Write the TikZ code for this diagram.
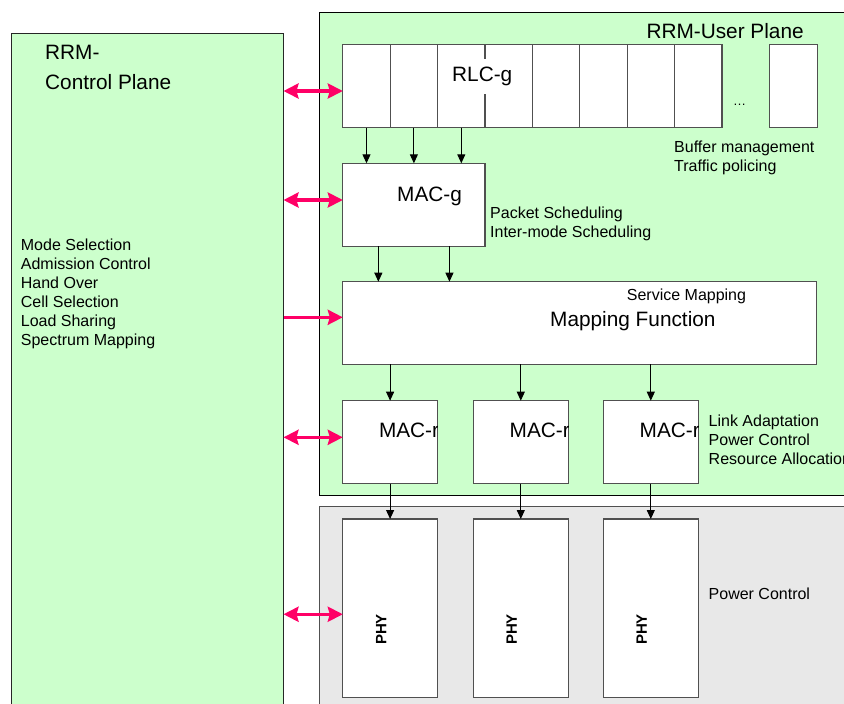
\documentclass[tikz,border=0pt]{standalone}
\usepackage{fontspec}
\setmainfont{Liberation Sans}
\usetikzlibrary{arrows.meta,calc}
\definecolor{planegreen}{HTML}{CCFFCC}
\definecolor{phygray}{HTML}{E8E8E8}
\definecolor{ctrlpink}{HTML}{FF0066}
\definecolor{edgegray}{HTML}{505050}
\tikzset{
  plane/.style={draw=black, line width=1pt, outer sep=0pt, inner sep=0pt, anchor=north west},
  blockbox/.style={draw=edgegray, fill=white, line width=1.2pt, outer sep=0pt, inner sep=0pt, anchor=north west},
  bigtxt/.style={font=\fontsize{20.8}{25}\selectfont, inner sep=0pt, anchor=base west},
  smalltxt/.style={font=\fontsize{16}{19}\selectfont, inner sep=0pt, anchor=base west},
  phytxt/.style={font=\bfseries\fontsize{15}{17}\selectfont, inner sep=0pt, rotate=90},
  flow/.style={draw=black, line width=1pt, -{Triangle[length=9pt,width=8pt]}},
  ctrl/.style={draw=ctrlpink, line width=3.5pt,
    {Stealth[length=15pt,width=15pt,inset=2pt]}-{Stealth[length=15pt,width=15pt,inset=2pt]}},
  ctrlone/.style={draw=ctrlpink, line width=3.5pt, -{Stealth[length=15pt,width=15pt,inset=2pt]}}
}
\begin{document}
\begin{tikzpicture}[x=1pt,y=-1pt]
\path[use as bounding box] (0,0) rectangle (844,704);
\clip (0,0) rectangle (844,704);

% planes
\node[plane, draw=black!85, fill=planegreen, minimum width=272.5pt, minimum height=700pt] (cp) at (11,33) {};
\node[plane, fill=planegreen, minimum width=545pt, minimum height=482.6pt] (up) at (319,12.7) {};
\node[plane, draw=edgegray, fill=phygray, minimum width=545pt, minimum height=220pt] (pr) at (319,506.7) {};

% control plane texts
\node[bigtxt] (cpt1) at (45,59) {RRM-};
\node[bigtxt] (cpt2) at (45,89) {Control Plane};
\foreach \t [count=\k from 0] in {Mode Selection,Admission Control,Hand Over,Cell Selection,Load Sharing,Spectrum Mapping}
  \node[smalltxt] (cpf\k) at (20.7,{250.5+19*\k}) {\t};

% user plane title
\node[bigtxt] (upt) at (646.3,38.3) {RRM-User Plane};

% RLC buffers
\foreach \i in {1,...,8}
  \node[blockbox, minimum width=47.4pt, minimum height=83pt] (rlc\i) at ({342.8+47.4*(\i-1)},44.7) {};
\node[blockbox, minimum width=47.6pt, minimum height=83pt] (rlcn) at (769.6,44.7) {};
\node[bigtxt, fill=white, inner xsep=2pt, inner ysep=8pt] (rlclbl) at (450,81.7) {RLC-g};
\node[font=\fontsize{13}{15}\selectfont, inner sep=0pt, anchor=base] (dots) at (739.5,105) {…};
\node[smalltxt] (buf1) at (674,152.7) {Buffer management};
\node[smalltxt] (buf2) at (674,171.7) {Traffic policing};

% MAC-g
\node[blockbox, minimum width=142.2pt, minimum height=83pt] (macg) at (342.8,163.3) {};
\node[bigtxt] (macglbl) at (397,201.3) {MAC-g};
\node[smalltxt] (ps1) at (490,218.3) {Packet Scheduling};
\node[smalltxt] (ps2) at (490,237.3) {Inter-mode Scheduling};

% mapping function
\node[blockbox, minimum width=473.9pt, minimum height=82.6pt] (map) at (342.8,281.7) {};
\node[smalltxt] (svc) at (626.7,300.7) {Service Mapping};
\node[bigtxt] (maplbl) at (550,326.7) {Mapping Function};

% MAC-r and PHY columns
\foreach \i/\x in {1/342.8,2/473.5,3/603.5} {
  \node[blockbox, minimum width=94.6pt, minimum height=83pt] (macr\i) at (\x,400.7) {};
  \node[blockbox, minimum width=94.6pt, minimum height=178.3pt] (phy\i) at (\x,519) {};
}
\foreach \i in {1,2,3} {
  \begin{scope}
    \clip (macr\i.north west) rectangle (macr\i.south east);
    \node[bigtxt] (macrlbl\i) at ($(macr\i.north west)+(36,36.6)$) {MAC-r};
  \end{scope}
  \node[phytxt] (phylbl\i) at ($(phy\i.center)+(-9,21.3)$) {PHY};
}
\node[smalltxt] (la1) at (708.5,426) {Link Adaptation};
\node[smalltxt] (la2) at (708.5,445) {Power Control};
\node[smalltxt] (la3) at (708.5,464) {Resource Allocation};
\node[smalltxt] (pc) at (708.5,599.3) {Power Control};

% data flow
\foreach \i in {1,2,3}
  \draw[flow] (rlc\i.south) -- (rlc\i.south |- macg.north);
\coordinate (mg1) at ($(macg.south west)!0.25!(macg.south east)$);
\coordinate (mg2) at ($(macg.south west)!0.75!(macg.south east)$);
\draw[flow] (mg1) -- (mg1 |- map.north);
\draw[flow] (mg2) -- (mg2 |- map.north);
\foreach \i in {1,2,3} {
  \draw[flow] (macr\i.north |- map.south) -- (macr\i.north);
  \draw[flow] (macr\i.south) -- (phy\i.north);
}

% control links
\coordinate (c1) at ([yshift=-4.8pt]rlc1.west);
\coordinate (c2) at ([yshift=4.8pt]macg.west);
\coordinate (c3) at ([yshift=5.7pt]map.west);
\coordinate (c4) at ([yshift=4.9pt]macr1.west);
\coordinate (c5) at ([yshift=-6.1pt]phy1.west);
\draw[ctrl] (c1 -| cp.east) -- (c1);
\draw[ctrl] (c2 -| cp.east) -- (c2);
\draw[ctrlone] (c3 -| cp.east) -- (c3);
\draw[ctrl] (c4 -| cp.east) -- (c4);
\draw[ctrl] (c5 -| cp.east) -- (c5);
\end{tikzpicture}
\end{document}
